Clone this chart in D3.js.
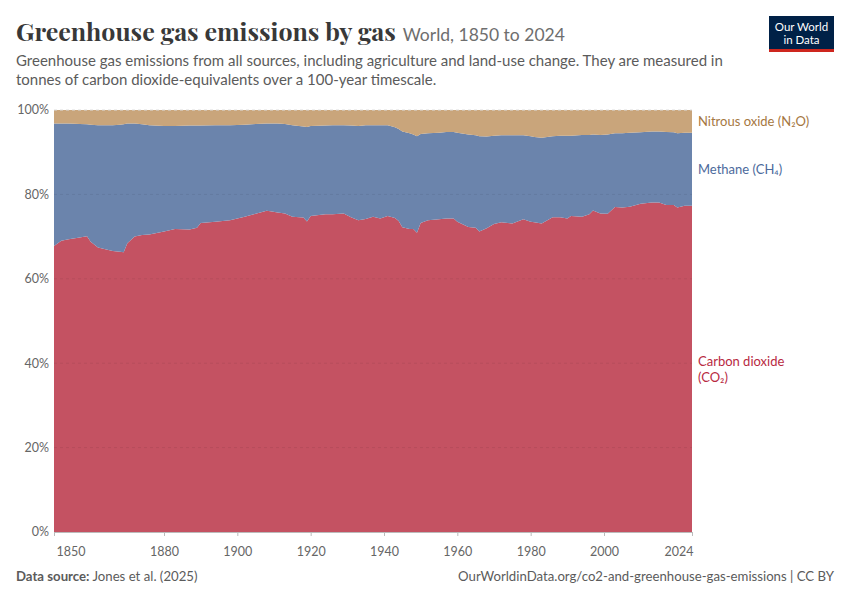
<!DOCTYPE html>
<html>
<head>
<meta charset="utf-8">
<script src="https://cdn.jsdelivr.net/npm/d3@7"></script>
<style>
  body { margin: 0; background: #fff; }
  svg { font-family: Lato, "Noto Sans", sans-serif; }
</style>
</head>
<body>
<div id="chart"></div>
<script>
// Shares of total GHG emissions (%)
const years = [1850, 1852, 1854, 1857, 1859, 1860, 1862, 1864, 1866, 1868, 1869, 1870, 1872, 1874, 1876,
  1880, 1883, 1887, 1889, 1890, 1894, 1898, 1902, 1905, 1908, 1909, 1911, 1913, 1915, 1918, 1919, 1920,
  1924, 1926, 1929, 1931, 1933, 1935, 1937, 1939, 1941, 1943, 1944, 1945, 1947, 1948, 1949, 1950, 1952,
  1955, 1957, 1959, 1960, 1963, 1965, 1966, 1968, 1970, 1972, 1975, 1978, 1980, 1981, 1983, 1986, 1988,
  1990, 1991, 1994, 1996, 1997, 1999, 2001, 2003, 2005, 2007, 2010, 2013, 2015, 2017, 2019, 2020, 2022, 2024];

const co2 = [67.8, 69.0, 69.4, 69.8, 70.1, 68.8, 67.4, 67.0, 66.6, 66.4, 66.3, 68.4, 70.0, 70.4, 70.5,
  71.2, 71.8, 71.7, 72.1, 73.2, 73.5, 73.9, 74.7, 75.4, 76.1, 76.0, 75.7, 75.5, 74.7, 74.5, 73.6, 74.9,
  75.3, 75.3, 75.5, 74.6, 73.9, 74.2, 74.7, 74.3, 74.9, 74.4, 73.7, 72.2, 71.8, 71.8, 70.9, 73.2, 73.9,
  74.1, 74.3, 74.3, 73.5, 72.3, 72.1, 71.2, 72.0, 73.0, 73.4, 73.1, 74.1, 73.5, 73.4, 73.1, 74.6, 74.6,
  74.3, 74.9, 74.7, 75.3, 76.2, 75.5, 75.4, 77.0, 76.9, 77.1, 77.8, 78.1, 78.1, 77.5, 77.5, 76.9, 77.3, 77.3];

const ch4 = [29.0, 27.8, 27.4, 26.9, 26.5, 27.7, 29.0, 29.4, 29.8, 30.1, 30.3, 28.4, 26.8, 26.2, 25.9,
  25.0, 24.4, 24.6, 24.2, 23.1, 22.9, 22.5, 21.8, 21.3, 20.7, 20.8, 21.1, 21.2, 21.7, 21.6, 22.4, 21.3,
  21.0, 21.1, 20.9, 21.7, 22.3, 22.2, 21.7, 22.1, 21.5, 21.5, 21.8, 22.7, 22.7, 22.4, 22.9, 21.1, 20.6,
  20.5, 20.5, 20.5, 21.1, 21.9, 21.9, 22.6, 21.7, 20.9, 20.6, 20.9, 19.9, 20.3, 20.2, 20.3, 19.2, 19.3,
  19.6, 19.0, 19.4, 18.8, 18.0, 18.6, 18.8, 17.5, 17.6, 17.5, 16.9, 16.8, 16.8, 17.3, 17.2, 17.6, 17.3, 17.3];

const n2o = [3.2, 3.2, 3.2, 3.3, 3.4, 3.5, 3.6, 3.6, 3.6, 3.5, 3.4, 3.2, 3.2, 3.4, 3.6,
  3.8, 3.8, 3.7, 3.7, 3.7, 3.6, 3.6, 3.5, 3.3, 3.2, 3.2, 3.2, 3.3, 3.6, 3.9, 4.0, 3.8,
  3.7, 3.6, 3.6, 3.7, 3.8, 3.6, 3.6, 3.6, 3.6, 4.1, 4.5, 5.1, 5.5, 5.8, 6.2, 5.7, 5.5,
  5.4, 5.2, 5.2, 5.4, 5.8, 6.0, 6.2, 6.3, 6.1, 6.0, 6.0, 6.0, 6.2, 6.4, 6.6, 6.2, 6.1,
  6.1, 6.1, 5.9, 5.9, 5.8, 5.9, 5.8, 5.5, 5.5, 5.4, 5.3, 5.1, 5.1, 5.2, 5.3, 5.5, 5.4, 5.4];

const seriesKeys = ["co2", "ch4", "n2o"];
const xTicks = [1850, 1880, 1900, 1920, 1940, 1960, 1980, 2000, 2024];
const yTicks = [0, 0.2, 0.4, 0.6, 0.8, 1];

const fills = { co2: "#c45262", ch4: "#6b84ac", n2o: "#c9a57b" };
const labelColors = { co2: "#b8293f", ch4: "#4c6a9c", n2o: "#a5773f" };

const W = 850, H = 600;
const margin = { top: 110, right: 158, bottom: 68, left: 54 };
const width = W - margin.left - margin.right;
const height = H - margin.top - margin.bottom;

const svg = d3.select("#chart").append("svg")
  .attr("width", W)
  .attr("height", H);

// header
svg.append("text")
  .attr("x", 16).attr("y", 41)
  .style("font-family", "'Playfair Display', 'Liberation Serif', 'DejaVu Serif', serif")
  .style("font-size", "25px")
  .style("font-weight", "bold")
  .style("fill", "#383838")
  .text("Greenhouse gas emissions by gas")
  .append("tspan")
  .attr("dx", 7)
  .style("font-family", "Lato, sans-serif")
  .style("font-weight", "normal")
  .style("font-size", "17.5px")
  .style("fill", "#6e6e6e")
  .text("World, 1850 to 2024");

const subtitle = ["Greenhouse gas emissions from all sources, including agriculture and land-use change. They are measured in",
  "tonnes of carbon dioxide-equivalents over a 100-year timescale."];
svg.selectAll(".sub").data(subtitle).enter().append("text")
  .attr("x", 16)
  .attr("y", function(d, i) { return 66 + i * 19; })
  .style("font-size", "15px")
  .style("fill", "#5b5b5b")
  .text(function(d) { return d; });

// logo
const logo = svg.append("g").attr("transform", "translate(769,16)");
logo.append("rect").attr("width", 65).attr("height", 36).attr("fill", "#002147");
logo.append("rect").attr("y", 33).attr("width", 65).attr("height", 3).attr("fill", "#ce261e");
logo.selectAll("text").data(["Our World", "in Data"]).enter().append("text")
  .attr("x", 32.5)
  .attr("y", function(d, i) { return 15 + i * 13; })
  .attr("text-anchor", "middle")
  .style("font-size", "11.5px")
  .style("fill", "#fff")
  .text(function(d) { return d; });

const g = svg.append("g")
  .attr("transform", "translate(" + margin.left + "," + margin.top + ")");

const x = d3.scaleLinear().domain([1850, 2024]).range([0, width]);
const y = d3.scaleLinear().domain([0, 1]).range([height, 0]);

const rows = years.map(function(yr, i) {
  return { year: yr, co2: co2[i], ch4: ch4[i], n2o: n2o[i] };
});

const stacked = d3.stack()
  .keys(seriesKeys)
  .offset(d3.stackOffsetExpand)(rows);

const area = d3.area()
  .x(function(d) { return x(d.data.year); })
  .y0(function(d) { return y(d[0]); })
  .y1(function(d) { return y(d[1]); });

g.selectAll(".layer")
  .data(stacked)
  .enter().append("path")
  .attr("d", area)
  .attr("fill", function(d) { return fills[d.key]; });

// gridlines (faint, drawn over areas)
g.selectAll(".grid")
  .data(yTicks.filter(function(t) { return t > 0; }))
  .enter().append("line")
  .attr("x1", 0).attr("x2", width)
  .attr("y1", function(d) { return y(d); })
  .attr("y2", function(d) { return y(d); })
  .attr("stroke", function(d) { return d === 1 ? "#dddddd" : "rgba(0,0,0,0.07)"; })
  .attr("stroke-dasharray", "3,3");

// y axis labels
g.selectAll(".ylab")
  .data(yTicks)
  .enter().append("text")
  .attr("x", -5)
  .attr("y", function(d) { return y(d); })
  .attr("dy", "0.35em")
  .attr("text-anchor", "end")
  .style("font-size", "12.5px")
  .style("fill", "#666")
  .text(function(d) { return d3.format(".0%")(d); });

// x axis
const xAxis = g.append("g")
  .attr("transform", "translate(0," + height + ")")
  .call(d3.axisBottom(x).tickValues(xTicks).tickFormat(d3.format("d")).tickSize(4).tickSizeOuter(0));
xAxis.select(".domain").attr("stroke", "#bbb");
xAxis.selectAll(".tick line").attr("stroke", "#bbb");
xAxis.selectAll(".tick text")
  .attr("dy", "1.35em")
  .attr("text-anchor", function(d) { return d === 1850 ? "start" : d === 2024 ? "end" : "middle"; })
  .attr("x", function(d) { return d === 1850 ? 2 : d === 2024 ? 1 : 0; })
  .style("font-family", "Lato, sans-serif")
  .style("font-size", "12.5px")
  .style("fill", "#666");

// series labels at the right end
const last = stacked.map(function(s) {
  const p = s[s.length - 1];
  return { key: s.key, mid: (p[0] + p[1]) / 2 };
});
const labelText = {
  n2o: ["Nitrous oxide (N₂O)"],
  ch4: ["Methane (CH₄)"],
  co2: ["Carbon dioxide", "(CO₂)"]
};
last.forEach(function(d) {
  const lines = labelText[d.key];
  g.append("text")
    .attr("x", width + 6)
    .attr("y", y(d.mid) - (lines.length - 1) * 7)
    .style("font-size", "13px")
    .style("fill", labelColors[d.key])
    .selectAll("tspan").data(lines).enter().append("tspan")
    .attr("x", width + 6)
    .attr("dy", function(t, i) { return i === 0 ? "0.35em" : "1.2em"; })
    .text(function(t) { return t; });
});

// footer
svg.append("text")
  .attr("x", 16).attr("y", 581)
  .style("font-size", "13.2px")
  .style("fill", "#5b5b5b")
  .call(function(t) {
    t.append("tspan").style("font-weight", "bold").text("Data source:");
    t.append("tspan").text(" Jones et al. (2025)");
  });
svg.append("text")
  .attr("x", 834).attr("y", 581)
  .attr("text-anchor", "end")
  .style("font-size", "13.2px")
  .style("fill", "#5b5b5b")
  .text("OurWorldinData.org/co2-and-greenhouse-gas-emissions | CC BY");
</script>
</body>
</html>
